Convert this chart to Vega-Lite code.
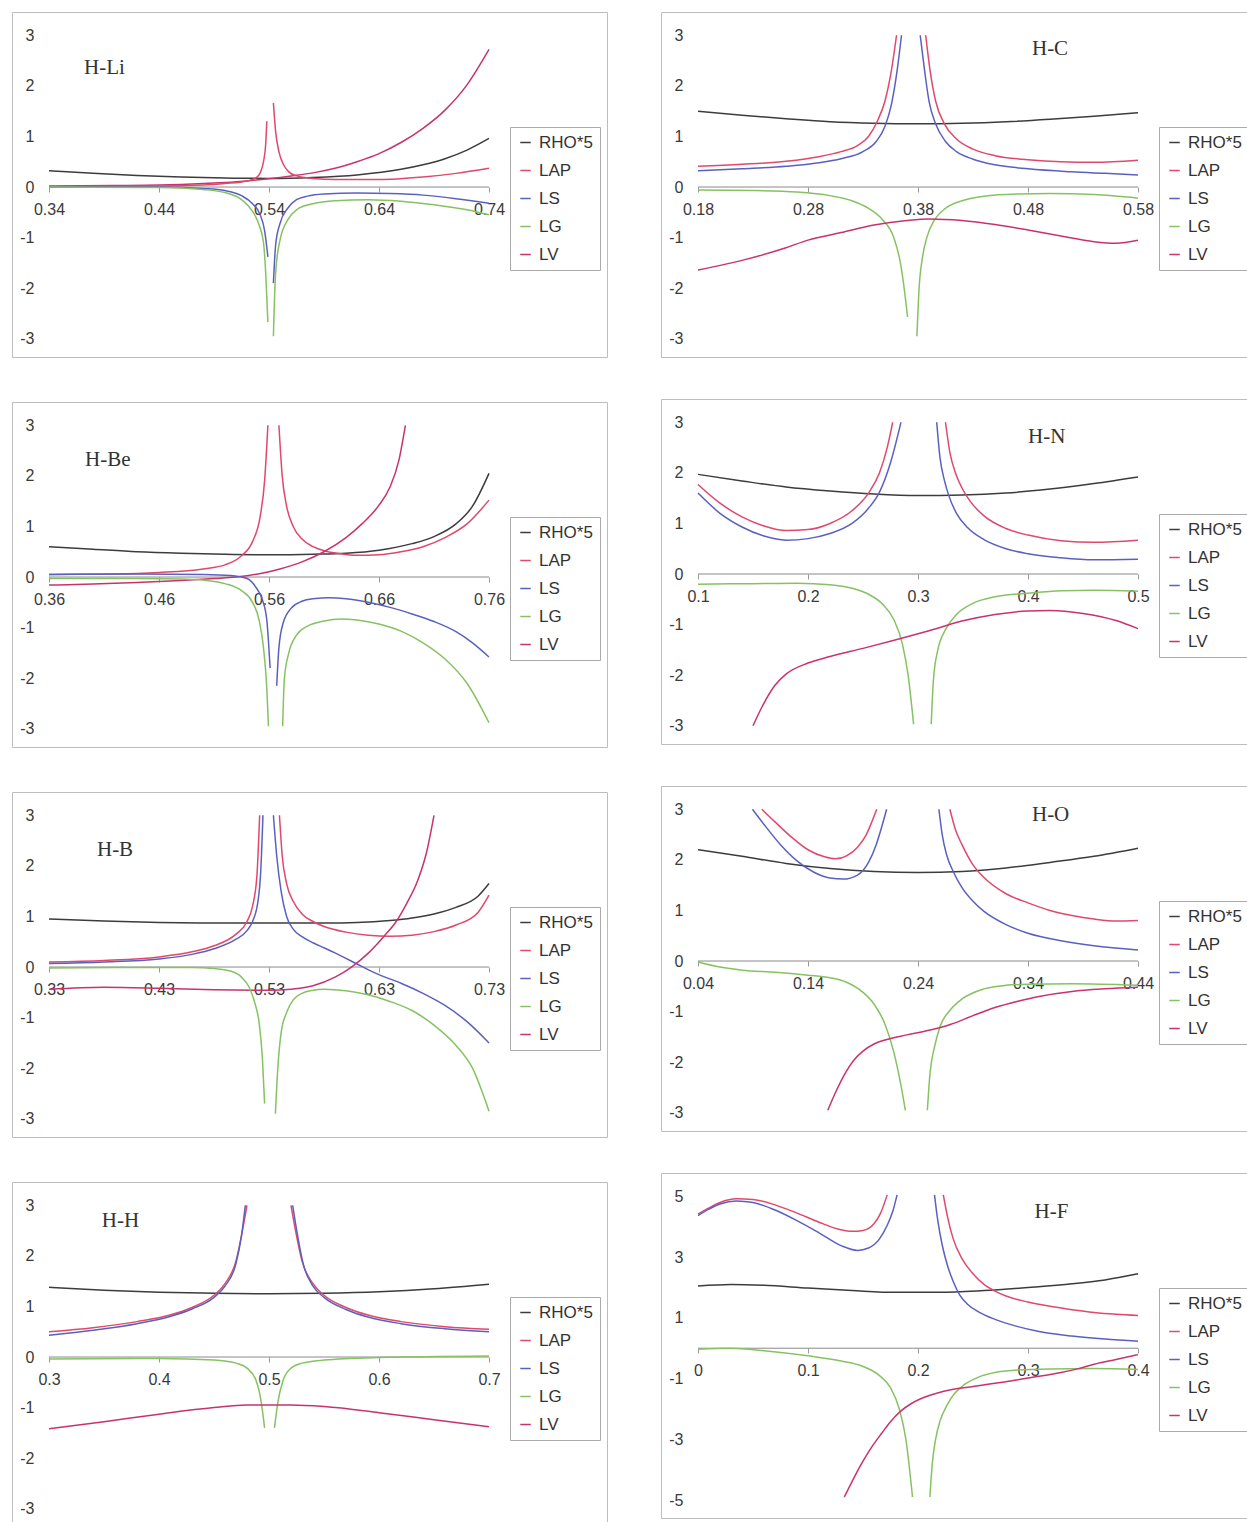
{
"$schema": "https://vega.github.io/schema/vega-lite/v6.json",
"background": "white",
"padding": {"left": 11, "top": 11, "right": 0, "bottom": 0},
"datasets": {
"hli": [
{"s":"RHO*5","b":0,"x":0.34,"y":0.32},{"s":"RHO*5","b":0,"x":0.38,"y":0.27},{"s":"RHO*5","b":0,"x":0.42,"y":0.23},{"s":"RHO*5","b":0,"x":0.46,"y":0.2},{"s":"RHO*5","b":0,"x":0.5,"y":0.18},{"s":"RHO*5","b":0,"x":0.54,"y":0.17},{"s":"RHO*5","b":0,"x":0.58,"y":0.19},{"s":"RHO*5","b":0,"x":0.62,"y":0.24},{"s":"RHO*5","b":0,"x":0.66,"y":0.35},{"s":"RHO*5","b":0,"x":0.68,"y":0.44},{"s":"RHO*5","b":0,"x":0.7,"y":0.56},{"s":"RHO*5","b":0,"x":0.72,"y":0.73},{"s":"RHO*5","b":0,"x":0.74,"y":0.96},
{"s":"LV","b":0,"x":0.34,"y":0.02},{"s":"LV","b":0,"x":0.4,"y":0.03},{"s":"LV","b":0,"x":0.44,"y":0.04},{"s":"LV","b":0,"x":0.48,"y":0.07},{"s":"LV","b":0,"x":0.52,"y":0.12},{"s":"LV","b":0,"x":0.56,"y":0.22},{"s":"LV","b":0,"x":0.58,"y":0.28},{"s":"LV","b":0,"x":0.6,"y":0.37},{"s":"LV","b":0,"x":0.62,"y":0.5},{"s":"LV","b":0,"x":0.64,"y":0.66},{"s":"LV","b":0,"x":0.66,"y":0.88},{"s":"LV","b":0,"x":0.68,"y":1.16},{"s":"LV","b":0,"x":0.7,"y":1.52},{"s":"LV","b":0,"x":0.72,"y":2.02},{"s":"LV","b":0,"x":0.74,"y":2.72},
{"s":"LAP","b":1,"x":0.34,"y":0.01},{"s":"LAP","b":1,"x":0.44,"y":0.02},{"s":"LAP","b":1,"x":0.48,"y":0.04},{"s":"LAP","b":1,"x":0.5,"y":0.07},{"s":"LAP","b":1,"x":0.52,"y":0.12},{"s":"LAP","b":1,"x":0.528,"y":0.18},{"s":"LAP","b":1,"x":0.532,"y":0.28},{"s":"LAP","b":1,"x":0.535,"y":0.5},{"s":"LAP","b":1,"x":0.537,"y":0.85},{"s":"LAP","b":1,"x":0.538,"y":1.3},
{"s":"LAP","b":2,"x":0.544,"y":1.66},{"s":"LAP","b":2,"x":0.546,"y":1.1},{"s":"LAP","b":2,"x":0.549,"y":0.7},{"s":"LAP","b":2,"x":0.553,"y":0.45},{"s":"LAP","b":2,"x":0.558,"y":0.3},{"s":"LAP","b":2,"x":0.565,"y":0.22},{"s":"LAP","b":2,"x":0.58,"y":0.17},{"s":"LAP","b":2,"x":0.6,"y":0.15},{"s":"LAP","b":2,"x":0.64,"y":0.15},{"s":"LAP","b":2,"x":0.68,"y":0.2},{"s":"LAP","b":2,"x":0.71,"y":0.27},{"s":"LAP","b":2,"x":0.74,"y":0.37},
{"s":"LS","b":1,"x":0.34,"y":0.0},{"s":"LS","b":1,"x":0.44,"y":0.0},{"s":"LS","b":1,"x":0.48,"y":-0.03},{"s":"LS","b":1,"x":0.5,"y":-0.07},{"s":"LS","b":1,"x":0.515,"y":-0.17},{"s":"LS","b":1,"x":0.525,"y":-0.33},{"s":"LS","b":1,"x":0.532,"y":-0.55},{"s":"LS","b":1,"x":0.536,"y":-0.86},{"s":"LS","b":1,"x":0.539,"y":-1.38},
{"s":"LS","b":2,"x":0.544,"y":-1.9},{"s":"LS","b":2,"x":0.546,"y":-1.15},{"s":"LS","b":2,"x":0.55,"y":-0.72},{"s":"LS","b":2,"x":0.557,"y":-0.42},{"s":"LS","b":2,"x":0.565,"y":-0.25},{"s":"LS","b":2,"x":0.575,"y":-0.18},{"s":"LS","b":2,"x":0.59,"y":-0.14},{"s":"LS","b":2,"x":0.62,"y":-0.12},{"s":"LS","b":2,"x":0.65,"y":-0.13},{"s":"LS","b":2,"x":0.68,"y":-0.16},{"s":"LS","b":2,"x":0.71,"y":-0.23},{"s":"LS","b":2,"x":0.74,"y":-0.32},
{"s":"LG","b":1,"x":0.34,"y":0.0},{"s":"LG","b":1,"x":0.44,"y":-0.01},{"s":"LG","b":1,"x":0.48,"y":-0.05},{"s":"LG","b":1,"x":0.5,"y":-0.11},{"s":"LG","b":1,"x":0.515,"y":-0.25},{"s":"LG","b":1,"x":0.525,"y":-0.48},{"s":"LG","b":1,"x":0.531,"y":-0.75},{"s":"LG","b":1,"x":0.535,"y":-1.1},{"s":"LG","b":1,"x":0.537,"y":-1.7},{"s":"LG","b":1,"x":0.539,"y":-2.67},
{"s":"LG","b":2,"x":0.544,"y":-2.95},{"s":"LG","b":2,"x":0.546,"y":-1.7},{"s":"LG","b":2,"x":0.55,"y":-1.05},{"s":"LG","b":2,"x":0.557,"y":-0.65},{"s":"LG","b":2,"x":0.565,"y":-0.45},{"s":"LG","b":2,"x":0.58,"y":-0.33},{"s":"LG","b":2,"x":0.6,"y":-0.27},{"s":"LG","b":2,"x":0.63,"y":-0.25},{"s":"LG","b":2,"x":0.66,"y":-0.28},{"s":"LG","b":2,"x":0.69,"y":-0.35},{"s":"LG","b":2,"x":0.72,"y":-0.45},{"s":"LG","b":2,"x":0.74,"y":-0.55}
],
"hbe": [
{"s":"RHO*5","b":0,"x":0.36,"y":0.6},{"s":"RHO*5","b":0,"x":0.4,"y":0.55},{"s":"RHO*5","b":0,"x":0.44,"y":0.5},{"s":"RHO*5","b":0,"x":0.48,"y":0.47},{"s":"RHO*5","b":0,"x":0.52,"y":0.45},{"s":"RHO*5","b":0,"x":0.56,"y":0.44},{"s":"RHO*5","b":0,"x":0.6,"y":0.45},{"s":"RHO*5","b":0,"x":0.63,"y":0.47},{"s":"RHO*5","b":0,"x":0.66,"y":0.53},{"s":"RHO*5","b":0,"x":0.69,"y":0.66},{"s":"RHO*5","b":0,"x":0.71,"y":0.8},{"s":"RHO*5","b":0,"x":0.73,"y":1.05},{"s":"RHO*5","b":0,"x":0.745,"y":1.4},{"s":"RHO*5","b":0,"x":0.76,"y":2.05},
{"s":"LAP","b":1,"x":0.36,"y":0.05},{"s":"LAP","b":1,"x":0.42,"y":0.06},{"s":"LAP","b":1,"x":0.46,"y":0.09},{"s":"LAP","b":1,"x":0.5,"y":0.16},{"s":"LAP","b":1,"x":0.52,"y":0.24},{"s":"LAP","b":1,"x":0.535,"y":0.42},{"s":"LAP","b":1,"x":0.545,"y":0.7},{"s":"LAP","b":1,"x":0.552,"y":1.2},{"s":"LAP","b":1,"x":0.556,"y":1.9},{"s":"LAP","b":1,"x":0.559,"y":3.0},
{"s":"LAP","b":2,"x":0.569,"y":3.0},{"s":"LAP","b":2,"x":0.572,"y":2.0},{"s":"LAP","b":2,"x":0.576,"y":1.4},{"s":"LAP","b":2,"x":0.582,"y":1.0},{"s":"LAP","b":2,"x":0.59,"y":0.75},{"s":"LAP","b":2,"x":0.6,"y":0.6},{"s":"LAP","b":2,"x":0.61,"y":0.52},{"s":"LAP","b":2,"x":0.625,"y":0.46},{"s":"LAP","b":2,"x":0.64,"y":0.43},{"s":"LAP","b":2,"x":0.66,"y":0.44},{"s":"LAP","b":2,"x":0.68,"y":0.5},{"s":"LAP","b":2,"x":0.7,"y":0.6},{"s":"LAP","b":2,"x":0.72,"y":0.78},{"s":"LAP","b":2,"x":0.74,"y":1.05},{"s":"LAP","b":2,"x":0.76,"y":1.52},
{"s":"LV","b":0,"x":0.36,"y":-0.16},{"s":"LV","b":0,"x":0.4,"y":-0.14},{"s":"LV","b":0,"x":0.44,"y":-0.11},{"s":"LV","b":0,"x":0.48,"y":-0.07},{"s":"LV","b":0,"x":0.51,"y":-0.03},{"s":"LV","b":0,"x":0.53,"y":0.0},{"s":"LV","b":0,"x":0.55,"y":0.06},{"s":"LV","b":0,"x":0.57,"y":0.16},{"s":"LV","b":0,"x":0.59,"y":0.3},{"s":"LV","b":0,"x":0.61,"y":0.5},{"s":"LV","b":0,"x":0.63,"y":0.78},{"s":"LV","b":0,"x":0.645,"y":1.06},{"s":"LV","b":0,"x":0.66,"y":1.42},{"s":"LV","b":0,"x":0.67,"y":1.78},{"s":"LV","b":0,"x":0.678,"y":2.3},{"s":"LV","b":0,"x":0.684,"y":3.0},
{"s":"LS","b":1,"x":0.36,"y":0.05},{"s":"LS","b":1,"x":0.44,"y":0.06},{"s":"LS","b":1,"x":0.5,"y":0.05},{"s":"LS","b":1,"x":0.525,"y":0.03},{"s":"LS","b":1,"x":0.54,"y":-0.03},{"s":"LS","b":1,"x":0.548,"y":-0.2},{"s":"LS","b":1,"x":0.554,"y":-0.45},{"s":"LS","b":1,"x":0.558,"y":-0.85},{"s":"LS","b":1,"x":0.561,"y":-1.8},
{"s":"LS","b":2,"x":0.567,"y":-2.15},{"s":"LS","b":2,"x":0.569,"y":-1.4},{"s":"LS","b":2,"x":0.573,"y":-0.9},{"s":"LS","b":2,"x":0.58,"y":-0.62},{"s":"LS","b":2,"x":0.59,"y":-0.48},{"s":"LS","b":2,"x":0.6,"y":-0.43},{"s":"LS","b":2,"x":0.615,"y":-0.41},{"s":"LS","b":2,"x":0.63,"y":-0.43},{"s":"LS","b":2,"x":0.65,"y":-0.5},{"s":"LS","b":2,"x":0.67,"y":-0.6},{"s":"LS","b":2,"x":0.69,"y":-0.73},{"s":"LS","b":2,"x":0.71,"y":-0.88},{"s":"LS","b":2,"x":0.73,"y":-1.08},{"s":"LS","b":2,"x":0.745,"y":-1.3},{"s":"LS","b":2,"x":0.76,"y":-1.58},
{"s":"LG","b":1,"x":0.36,"y":-0.03},{"s":"LG","b":1,"x":0.44,"y":-0.03},{"s":"LG","b":1,"x":0.48,"y":-0.04},{"s":"LG","b":1,"x":0.5,"y":-0.06},{"s":"LG","b":1,"x":0.52,"y":-0.13},{"s":"LG","b":1,"x":0.535,"y":-0.27},{"s":"LG","b":1,"x":0.545,"y":-0.5},{"s":"LG","b":1,"x":0.551,"y":-0.85},{"s":"LG","b":1,"x":0.555,"y":-1.4},{"s":"LG","b":1,"x":0.558,"y":-2.2},{"s":"LG","b":1,"x":0.5595,"y":-2.95},
{"s":"LG","b":2,"x":0.5724,"y":-2.95},{"s":"LG","b":2,"x":0.574,"y":-2.0},{"s":"LG","b":2,"x":0.578,"y":-1.5},{"s":"LG","b":2,"x":0.585,"y":-1.15},{"s":"LG","b":2,"x":0.595,"y":-0.97},{"s":"LG","b":2,"x":0.61,"y":-0.87},{"s":"LG","b":2,"x":0.625,"y":-0.83},{"s":"LG","b":2,"x":0.64,"y":-0.85},{"s":"LG","b":2,"x":0.66,"y":-0.93},{"s":"LG","b":2,"x":0.68,"y":-1.07},{"s":"LG","b":2,"x":0.7,"y":-1.3},{"s":"LG","b":2,"x":0.72,"y":-1.62},{"s":"LG","b":2,"x":0.74,"y":-2.1},{"s":"LG","b":2,"x":0.76,"y":-2.88}
],
"hb": [
{"s":"RHO*5","b":0,"x":0.33,"y":0.95},{"s":"RHO*5","b":0,"x":0.38,"y":0.91},{"s":"RHO*5","b":0,"x":0.43,"y":0.88},{"s":"RHO*5","b":0,"x":0.48,"y":0.87},{"s":"RHO*5","b":0,"x":0.53,"y":0.87},{"s":"RHO*5","b":0,"x":0.58,"y":0.87},{"s":"RHO*5","b":0,"x":0.61,"y":0.88},{"s":"RHO*5","b":0,"x":0.64,"y":0.92},{"s":"RHO*5","b":0,"x":0.66,"y":0.97},{"s":"RHO*5","b":0,"x":0.68,"y":1.05},{"s":"RHO*5","b":0,"x":0.7,"y":1.18},{"s":"RHO*5","b":0,"x":0.72,"y":1.4},{"s":"RHO*5","b":0,"x":0.73,"y":1.65},
{"s":"LAP","b":1,"x":0.33,"y":0.1},{"s":"LAP","b":1,"x":0.38,"y":0.13},{"s":"LAP","b":1,"x":0.43,"y":0.2},{"s":"LAP","b":1,"x":0.46,"y":0.3},{"s":"LAP","b":1,"x":0.48,"y":0.42},{"s":"LAP","b":1,"x":0.5,"y":0.65},{"s":"LAP","b":1,"x":0.51,"y":0.9},{"s":"LAP","b":1,"x":0.515,"y":1.2},{"s":"LAP","b":1,"x":0.519,"y":1.8},{"s":"LAP","b":1,"x":0.5215,"y":3.0},
{"s":"LAP","b":2,"x":0.5395,"y":3.0},{"s":"LAP","b":2,"x":0.542,"y":2.2},{"s":"LAP","b":2,"x":0.546,"y":1.65},{"s":"LAP","b":2,"x":0.552,"y":1.3},{"s":"LAP","b":2,"x":0.56,"y":1.05},{"s":"LAP","b":2,"x":0.57,"y":0.9},{"s":"LAP","b":2,"x":0.58,"y":0.8},{"s":"LAP","b":2,"x":0.6,"y":0.69},{"s":"LAP","b":2,"x":0.62,"y":0.63},{"s":"LAP","b":2,"x":0.64,"y":0.61},{"s":"LAP","b":2,"x":0.66,"y":0.63},{"s":"LAP","b":2,"x":0.68,"y":0.7},{"s":"LAP","b":2,"x":0.7,"y":0.83},{"s":"LAP","b":2,"x":0.72,"y":1.08},{"s":"LAP","b":2,"x":0.73,"y":1.42},
{"s":"LS","b":1,"x":0.33,"y":0.07},{"s":"LS","b":1,"x":0.38,"y":0.1},{"s":"LS","b":1,"x":0.43,"y":0.16},{"s":"LS","b":1,"x":0.46,"y":0.25},{"s":"LS","b":1,"x":0.48,"y":0.36},{"s":"LS","b":1,"x":0.5,"y":0.55},{"s":"LS","b":1,"x":0.51,"y":0.72},{"s":"LS","b":1,"x":0.515,"y":0.9},{"s":"LS","b":1,"x":0.52,"y":1.3},{"s":"LS","b":1,"x":0.5225,"y":1.9},{"s":"LS","b":1,"x":0.5245,"y":3.0},
{"s":"LS","b":2,"x":0.534,"y":3.0},{"s":"LS","b":2,"x":0.537,"y":2.2},{"s":"LS","b":2,"x":0.541,"y":1.5},{"s":"LS","b":2,"x":0.546,"y":1.0},{"s":"LS","b":2,"x":0.552,"y":0.75},{"s":"LS","b":2,"x":0.56,"y":0.6},{"s":"LS","b":2,"x":0.57,"y":0.48},{"s":"LS","b":2,"x":0.58,"y":0.38},{"s":"LS","b":2,"x":0.59,"y":0.28},{"s":"LS","b":2,"x":0.6,"y":0.17},{"s":"LS","b":2,"x":0.61,"y":0.06},{"s":"LS","b":2,"x":0.62,"y":-0.05},{"s":"LS","b":2,"x":0.63,"y":-0.15},{"s":"LS","b":2,"x":0.65,"y":-0.32},{"s":"LS","b":2,"x":0.67,"y":-0.52},{"s":"LS","b":2,"x":0.69,"y":-0.76},{"s":"LS","b":2,"x":0.71,"y":-1.08},{"s":"LS","b":2,"x":0.73,"y":-1.5},
{"s":"LV","b":0,"x":0.33,"y":-0.44},{"s":"LV","b":0,"x":0.38,"y":-0.4},{"s":"LV","b":0,"x":0.43,"y":-0.42},{"s":"LV","b":0,"x":0.48,"y":-0.45},{"s":"LV","b":0,"x":0.53,"y":-0.46},{"s":"LV","b":0,"x":0.55,"y":-0.44},{"s":"LV","b":0,"x":0.57,"y":-0.37},{"s":"LV","b":0,"x":0.59,"y":-0.2},{"s":"LV","b":0,"x":0.605,"y":0.0},{"s":"LV","b":0,"x":0.62,"y":0.27},{"s":"LV","b":0,"x":0.635,"y":0.62},{"s":"LV","b":0,"x":0.645,"y":0.88},{"s":"LV","b":0,"x":0.655,"y":1.25},{"s":"LV","b":0,"x":0.665,"y":1.7},{"s":"LV","b":0,"x":0.673,"y":2.25},{"s":"LV","b":0,"x":0.68,"y":3.0},
{"s":"LG","b":1,"x":0.33,"y":-0.02},{"s":"LG","b":1,"x":0.4,"y":-0.01},{"s":"LG","b":1,"x":0.46,"y":-0.01},{"s":"LG","b":1,"x":0.48,"y":-0.03},{"s":"LG","b":1,"x":0.495,"y":-0.08},{"s":"LG","b":1,"x":0.505,"y":-0.2},{"s":"LG","b":1,"x":0.512,"y":-0.4},{"s":"LG","b":1,"x":0.517,"y":-0.7},{"s":"LG","b":1,"x":0.521,"y":-1.1},{"s":"LG","b":1,"x":0.524,"y":-1.8},{"s":"LG","b":1,"x":0.526,"y":-2.7},
{"s":"LG","b":2,"x":0.5358,"y":-2.9},{"s":"LG","b":2,"x":0.538,"y":-2.0},{"s":"LG","b":2,"x":0.541,"y":-1.3},{"s":"LG","b":2,"x":0.546,"y":-0.9},{"s":"LG","b":2,"x":0.552,"y":-0.65},{"s":"LG","b":2,"x":0.56,"y":-0.52},{"s":"LG","b":2,"x":0.57,"y":-0.46},{"s":"LG","b":2,"x":0.58,"y":-0.44},{"s":"LG","b":2,"x":0.6,"y":-0.47},{"s":"LG","b":2,"x":0.62,"y":-0.55},{"s":"LG","b":2,"x":0.64,"y":-0.68},{"s":"LG","b":2,"x":0.66,"y":-0.86},{"s":"LG","b":2,"x":0.68,"y":-1.15},{"s":"LG","b":2,"x":0.7,"y":-1.55},{"s":"LG","b":2,"x":0.715,"y":-2.0},{"s":"LG","b":2,"x":0.73,"y":-2.85}
],
"hh": [
{"s":"RHO*5","b":0,"x":0.3,"y":1.38},{"s":"RHO*5","b":0,"x":0.35,"y":1.32},{"s":"RHO*5","b":0,"x":0.4,"y":1.28},{"s":"RHO*5","b":0,"x":0.45,"y":1.26},{"s":"RHO*5","b":0,"x":0.5,"y":1.25},{"s":"RHO*5","b":0,"x":0.55,"y":1.26},{"s":"RHO*5","b":0,"x":0.6,"y":1.29},{"s":"RHO*5","b":0,"x":0.65,"y":1.35},{"s":"RHO*5","b":0,"x":0.7,"y":1.44},
{"s":"LAP","b":1,"x":0.3,"y":0.5},{"s":"LAP","b":1,"x":0.34,"y":0.58},{"s":"LAP","b":1,"x":0.38,"y":0.7},{"s":"LAP","b":1,"x":0.41,"y":0.83},{"s":"LAP","b":1,"x":0.43,"y":0.98},{"s":"LAP","b":1,"x":0.45,"y":1.22},{"s":"LAP","b":1,"x":0.46,"y":1.45},{"s":"LAP","b":1,"x":0.47,"y":1.9},{"s":"LAP","b":1,"x":0.475,"y":2.4},{"s":"LAP","b":1,"x":0.48,"y":3.0},
{"s":"LAP","b":2,"x":0.52,"y":3.0},{"s":"LAP","b":2,"x":0.525,"y":2.4},{"s":"LAP","b":2,"x":0.53,"y":1.9},{"s":"LAP","b":2,"x":0.54,"y":1.45},{"s":"LAP","b":2,"x":0.55,"y":1.22},{"s":"LAP","b":2,"x":0.57,"y":0.98},{"s":"LAP","b":2,"x":0.59,"y":0.83},{"s":"LAP","b":2,"x":0.62,"y":0.7},{"s":"LAP","b":2,"x":0.66,"y":0.6},{"s":"LAP","b":2,"x":0.7,"y":0.55},
{"s":"LS","b":1,"x":0.3,"y":0.43},{"s":"LS","b":1,"x":0.34,"y":0.53},{"s":"LS","b":1,"x":0.38,"y":0.66},{"s":"LS","b":1,"x":0.41,"y":0.8},{"s":"LS","b":1,"x":0.43,"y":0.95},{"s":"LS","b":1,"x":0.45,"y":1.18},{"s":"LS","b":1,"x":0.46,"y":1.4},{"s":"LS","b":1,"x":0.47,"y":1.85},{"s":"LS","b":1,"x":0.475,"y":2.4},{"s":"LS","b":1,"x":0.4785,"y":3.0},
{"s":"LS","b":2,"x":0.5215,"y":3.0},{"s":"LS","b":2,"x":0.526,"y":2.4},{"s":"LS","b":2,"x":0.531,"y":1.85},{"s":"LS","b":2,"x":0.54,"y":1.4},{"s":"LS","b":2,"x":0.55,"y":1.18},{"s":"LS","b":2,"x":0.57,"y":0.94},{"s":"LS","b":2,"x":0.59,"y":0.79},{"s":"LS","b":2,"x":0.62,"y":0.66},{"s":"LS","b":2,"x":0.66,"y":0.56},{"s":"LS","b":2,"x":0.7,"y":0.5},
{"s":"LG","b":1,"x":0.3,"y":-0.04},{"s":"LG","b":1,"x":0.4,"y":-0.03},{"s":"LG","b":1,"x":0.45,"y":-0.06},{"s":"LG","b":1,"x":0.47,"y":-0.12},{"s":"LG","b":1,"x":0.48,"y":-0.22},{"s":"LG","b":1,"x":0.488,"y":-0.45},{"s":"LG","b":1,"x":0.493,"y":-0.9},{"s":"LG","b":1,"x":0.496,"y":-1.4},
{"s":"LG","b":2,"x":0.505,"y":-1.4},{"s":"LG","b":2,"x":0.508,"y":-0.9},{"s":"LG","b":2,"x":0.513,"y":-0.45},{"s":"LG","b":2,"x":0.52,"y":-0.22},{"s":"LG","b":2,"x":0.53,"y":-0.12},{"s":"LG","b":2,"x":0.55,"y":-0.06},{"s":"LG","b":2,"x":0.6,"y":-0.01},{"s":"LG","b":2,"x":0.7,"y":0.02},
{"s":"LV","b":0,"x":0.3,"y":-1.42},{"s":"LV","b":0,"x":0.35,"y":-1.28},{"s":"LV","b":0,"x":0.4,"y":-1.13},{"s":"LV","b":0,"x":0.45,"y":-1.0},{"s":"LV","b":0,"x":0.48,"y":-0.95},{"s":"LV","b":0,"x":0.5,"y":-0.95},{"s":"LV","b":0,"x":0.52,"y":-0.95},{"s":"LV","b":0,"x":0.55,"y":-0.98},{"s":"LV","b":0,"x":0.6,"y":-1.1},{"s":"LV","b":0,"x":0.65,"y":-1.24},{"s":"LV","b":0,"x":0.7,"y":-1.38}
],
"hc": [
{"s":"RHO*5","b":0,"x":0.18,"y":1.5},{"s":"RHO*5","b":0,"x":0.22,"y":1.42},{"s":"RHO*5","b":0,"x":0.26,"y":1.35},{"s":"RHO*5","b":0,"x":0.3,"y":1.29},{"s":"RHO*5","b":0,"x":0.34,"y":1.26},{"s":"RHO*5","b":0,"x":0.38,"y":1.25},{"s":"RHO*5","b":0,"x":0.42,"y":1.26},{"s":"RHO*5","b":0,"x":0.46,"y":1.29},{"s":"RHO*5","b":0,"x":0.5,"y":1.34},{"s":"RHO*5","b":0,"x":0.54,"y":1.4},{"s":"RHO*5","b":0,"x":0.58,"y":1.47},
{"s":"LAP","b":1,"x":0.18,"y":0.41},{"s":"LAP","b":1,"x":0.22,"y":0.45},{"s":"LAP","b":1,"x":0.26,"y":0.51},{"s":"LAP","b":1,"x":0.29,"y":0.6},{"s":"LAP","b":1,"x":0.31,"y":0.7},{"s":"LAP","b":1,"x":0.325,"y":0.82},{"s":"LAP","b":1,"x":0.335,"y":1.0},{"s":"LAP","b":1,"x":0.343,"y":1.3},{"s":"LAP","b":1,"x":0.35,"y":1.7},{"s":"LAP","b":1,"x":0.355,"y":2.2},{"s":"LAP","b":1,"x":0.3605,"y":3.0},
{"s":"LAP","b":2,"x":0.387,"y":3.0},{"s":"LAP","b":2,"x":0.391,"y":2.3},{"s":"LAP","b":2,"x":0.396,"y":1.7},{"s":"LAP","b":2,"x":0.404,"y":1.25},{"s":"LAP","b":2,"x":0.415,"y":0.95},{"s":"LAP","b":2,"x":0.43,"y":0.75},{"s":"LAP","b":2,"x":0.45,"y":0.62},{"s":"LAP","b":2,"x":0.48,"y":0.54},{"s":"LAP","b":2,"x":0.51,"y":0.5},{"s":"LAP","b":2,"x":0.54,"y":0.49},{"s":"LAP","b":2,"x":0.58,"y":0.53},
{"s":"LS","b":1,"x":0.18,"y":0.32},{"s":"LS","b":1,"x":0.22,"y":0.36},{"s":"LS","b":1,"x":0.26,"y":0.41},{"s":"LS","b":1,"x":0.29,"y":0.48},{"s":"LS","b":1,"x":0.31,"y":0.56},{"s":"LS","b":1,"x":0.33,"y":0.7},{"s":"LS","b":1,"x":0.342,"y":0.9},{"s":"LS","b":1,"x":0.35,"y":1.2},{"s":"LS","b":1,"x":0.356,"y":1.65},{"s":"LS","b":1,"x":0.361,"y":2.3},{"s":"LS","b":1,"x":0.365,"y":3.0},
{"s":"LS","b":2,"x":0.382,"y":3.0},{"s":"LS","b":2,"x":0.386,"y":2.3},{"s":"LS","b":2,"x":0.39,"y":1.7},{"s":"LS","b":2,"x":0.396,"y":1.25},{"s":"LS","b":2,"x":0.405,"y":0.9},{"s":"LS","b":2,"x":0.415,"y":0.7},{"s":"LS","b":2,"x":0.43,"y":0.55},{"s":"LS","b":2,"x":0.45,"y":0.44},{"s":"LS","b":2,"x":0.48,"y":0.36},{"s":"LS","b":2,"x":0.52,"y":0.3},{"s":"LS","b":2,"x":0.55,"y":0.27},{"s":"LS","b":2,"x":0.58,"y":0.24},
{"s":"LG","b":1,"x":0.18,"y":-0.06},{"s":"LG","b":1,"x":0.23,"y":-0.07},{"s":"LG","b":1,"x":0.27,"y":-0.1},{"s":"LG","b":1,"x":0.3,"y":-0.17},{"s":"LG","b":1,"x":0.32,"y":-0.27},{"s":"LG","b":1,"x":0.335,"y":-0.42},{"s":"LG","b":1,"x":0.348,"y":-0.65},{"s":"LG","b":1,"x":0.358,"y":-1.0},{"s":"LG","b":1,"x":0.364,"y":-1.5},{"s":"LG","b":1,"x":0.368,"y":-2.1},{"s":"LG","b":1,"x":0.3705,"y":-2.57},
{"s":"LG","b":2,"x":0.379,"y":-2.95},{"s":"LG","b":2,"x":0.381,"y":-2.0},{"s":"LG","b":2,"x":0.384,"y":-1.4},{"s":"LG","b":2,"x":0.388,"y":-1.0},{"s":"LG","b":2,"x":0.395,"y":-0.65},{"s":"LG","b":2,"x":0.405,"y":-0.42},{"s":"LG","b":2,"x":0.42,"y":-0.27},{"s":"LG","b":2,"x":0.44,"y":-0.18},{"s":"LG","b":2,"x":0.47,"y":-0.14},{"s":"LG","b":2,"x":0.5,"y":-0.13},{"s":"LG","b":2,"x":0.54,"y":-0.15},{"s":"LG","b":2,"x":0.58,"y":-0.22},
{"s":"LV","b":0,"x":0.18,"y":-1.64},{"s":"LV","b":0,"x":0.22,"y":-1.45},{"s":"LV","b":0,"x":0.26,"y":-1.2},{"s":"LV","b":0,"x":0.28,"y":-1.05},{"s":"LV","b":0,"x":0.31,"y":-0.9},{"s":"LV","b":0,"x":0.34,"y":-0.75},{"s":"LV","b":0,"x":0.37,"y":-0.66},{"s":"LV","b":0,"x":0.39,"y":-0.63},{"s":"LV","b":0,"x":0.42,"y":-0.66},{"s":"LV","b":0,"x":0.45,"y":-0.74},{"s":"LV","b":0,"x":0.48,"y":-0.85},{"s":"LV","b":0,"x":0.51,"y":-0.97},{"s":"LV","b":0,"x":0.54,"y":-1.08},{"s":"LV","b":0,"x":0.56,"y":-1.11},{"s":"LV","b":0,"x":0.58,"y":-1.05}
],
"hn": [
{"s":"RHO*5","b":0,"x":0.1,"y":1.97},{"s":"RHO*5","b":0,"x":0.14,"y":1.84},{"s":"RHO*5","b":0,"x":0.18,"y":1.72},{"s":"RHO*5","b":0,"x":0.22,"y":1.64},{"s":"RHO*5","b":0,"x":0.26,"y":1.58},{"s":"RHO*5","b":0,"x":0.3,"y":1.55},{"s":"RHO*5","b":0,"x":0.34,"y":1.56},{"s":"RHO*5","b":0,"x":0.38,"y":1.6},{"s":"RHO*5","b":0,"x":0.42,"y":1.68},{"s":"RHO*5","b":0,"x":0.46,"y":1.79},{"s":"RHO*5","b":0,"x":0.5,"y":1.92},
{"s":"LAP","b":1,"x":0.1,"y":1.77},{"s":"LAP","b":1,"x":0.12,"y":1.4},{"s":"LAP","b":1,"x":0.14,"y":1.13},{"s":"LAP","b":1,"x":0.16,"y":0.95},{"s":"LAP","b":1,"x":0.18,"y":0.86},{"s":"LAP","b":1,"x":0.2,"y":0.88},{"s":"LAP","b":1,"x":0.22,"y":1.0},{"s":"LAP","b":1,"x":0.24,"y":1.25},{"s":"LAP","b":1,"x":0.255,"y":1.6},{"s":"LAP","b":1,"x":0.265,"y":2.0},{"s":"LAP","b":1,"x":0.272,"y":2.5},{"s":"LAP","b":1,"x":0.277,"y":3.0},
{"s":"LAP","b":2,"x":0.325,"y":3.0},{"s":"LAP","b":2,"x":0.329,"y":2.4},{"s":"LAP","b":2,"x":0.334,"y":2.0},{"s":"LAP","b":2,"x":0.34,"y":1.7},{"s":"LAP","b":2,"x":0.347,"y":1.45},{"s":"LAP","b":2,"x":0.36,"y":1.15},{"s":"LAP","b":2,"x":0.38,"y":0.9},{"s":"LAP","b":2,"x":0.4,"y":0.77},{"s":"LAP","b":2,"x":0.43,"y":0.66},{"s":"LAP","b":2,"x":0.46,"y":0.63},{"s":"LAP","b":2,"x":0.5,"y":0.67},
{"s":"LS","b":1,"x":0.1,"y":1.6},{"s":"LS","b":1,"x":0.12,"y":1.2},{"s":"LS","b":1,"x":0.14,"y":0.93},{"s":"LS","b":1,"x":0.16,"y":0.75},{"s":"LS","b":1,"x":0.18,"y":0.67},{"s":"LS","b":1,"x":0.2,"y":0.7},{"s":"LS","b":1,"x":0.22,"y":0.8},{"s":"LS","b":1,"x":0.24,"y":1.0},{"s":"LS","b":1,"x":0.255,"y":1.3},{"s":"LS","b":1,"x":0.265,"y":1.62},{"s":"LS","b":1,"x":0.275,"y":2.2},{"s":"LS","b":1,"x":0.2845,"y":3.0},
{"s":"LS","b":2,"x":0.317,"y":3.0},{"s":"LS","b":2,"x":0.32,"y":2.3},{"s":"LS","b":2,"x":0.324,"y":1.85},{"s":"LS","b":2,"x":0.328,"y":1.55},{"s":"LS","b":2,"x":0.335,"y":1.2},{"s":"LS","b":2,"x":0.345,"y":0.92},{"s":"LS","b":2,"x":0.36,"y":0.68},{"s":"LS","b":2,"x":0.38,"y":0.5},{"s":"LS","b":2,"x":0.4,"y":0.4},{"s":"LS","b":2,"x":0.43,"y":0.32},{"s":"LS","b":2,"x":0.46,"y":0.28},{"s":"LS","b":2,"x":0.5,"y":0.29},
{"s":"LG","b":1,"x":0.1,"y":-0.2},{"s":"LG","b":1,"x":0.15,"y":-0.19},{"s":"LG","b":1,"x":0.19,"y":-0.18},{"s":"LG","b":1,"x":0.22,"y":-0.21},{"s":"LG","b":1,"x":0.24,"y":-0.28},{"s":"LG","b":1,"x":0.255,"y":-0.4},{"s":"LG","b":1,"x":0.268,"y":-0.6},{"s":"LG","b":1,"x":0.278,"y":-0.9},{"s":"LG","b":1,"x":0.286,"y":-1.4},{"s":"LG","b":1,"x":0.291,"y":-2.0},{"s":"LG","b":1,"x":0.296,"y":-2.97},
{"s":"LG","b":2,"x":0.312,"y":-2.97},{"s":"LG","b":2,"x":0.314,"y":-2.1},{"s":"LG","b":2,"x":0.318,"y":-1.5},{"s":"LG","b":2,"x":0.325,"y":-1.1},{"s":"LG","b":2,"x":0.335,"y":-0.8},{"s":"LG","b":2,"x":0.35,"y":-0.58},{"s":"LG","b":2,"x":0.37,"y":-0.45},{"s":"LG","b":2,"x":0.4,"y":-0.38},{"s":"LG","b":2,"x":0.43,"y":-0.33},{"s":"LG","b":2,"x":0.46,"y":-0.32},{"s":"LG","b":2,"x":0.5,"y":-0.34},
{"s":"LV","b":0,"x":0.15,"y":-3.0},{"s":"LV","b":0,"x":0.16,"y":-2.55},{"s":"LV","b":0,"x":0.17,"y":-2.2},{"s":"LV","b":0,"x":0.18,"y":-1.98},{"s":"LV","b":0,"x":0.2,"y":-1.76},{"s":"LV","b":0,"x":0.22,"y":-1.63},{"s":"LV","b":0,"x":0.25,"y":-1.47},{"s":"LV","b":0,"x":0.28,"y":-1.3},{"s":"LV","b":0,"x":0.31,"y":-1.12},{"s":"LV","b":0,"x":0.34,"y":-0.93},{"s":"LV","b":0,"x":0.37,"y":-0.8},{"s":"LV","b":0,"x":0.4,"y":-0.73},{"s":"LV","b":0,"x":0.42,"y":-0.72},{"s":"LV","b":0,"x":0.45,"y":-0.78},{"s":"LV","b":0,"x":0.48,"y":-0.92},{"s":"LV","b":0,"x":0.5,"y":-1.08}
],
"ho": [
{"s":"RHO*5","b":0,"x":0.04,"y":2.2},{"s":"RHO*5","b":0,"x":0.08,"y":2.07},{"s":"RHO*5","b":0,"x":0.12,"y":1.93},{"s":"RHO*5","b":0,"x":0.16,"y":1.83},{"s":"RHO*5","b":0,"x":0.2,"y":1.77},{"s":"RHO*5","b":0,"x":0.24,"y":1.75},{"s":"RHO*5","b":0,"x":0.28,"y":1.77},{"s":"RHO*5","b":0,"x":0.32,"y":1.84},{"s":"RHO*5","b":0,"x":0.36,"y":1.95},{"s":"RHO*5","b":0,"x":0.4,"y":2.07},{"s":"RHO*5","b":0,"x":0.44,"y":2.23},
{"s":"LS","b":1,"x":0.0895,"y":3.0},{"s":"LS","b":1,"x":0.1,"y":2.7},{"s":"LS","b":1,"x":0.115,"y":2.3},{"s":"LS","b":1,"x":0.13,"y":1.98},{"s":"LS","b":1,"x":0.145,"y":1.76},{"s":"LS","b":1,"x":0.16,"y":1.64},{"s":"LS","b":1,"x":0.172,"y":1.62},{"s":"LS","b":1,"x":0.185,"y":1.7},{"s":"LS","b":1,"x":0.195,"y":1.95},{"s":"LS","b":1,"x":0.202,"y":2.3},{"s":"LS","b":1,"x":0.207,"y":2.65},{"s":"LS","b":1,"x":0.2115,"y":3.0},
{"s":"LAP","b":1,"x":0.098,"y":3.0},{"s":"LAP","b":1,"x":0.11,"y":2.75},{"s":"LAP","b":1,"x":0.125,"y":2.45},{"s":"LAP","b":1,"x":0.14,"y":2.2},{"s":"LAP","b":1,"x":0.155,"y":2.06},{"s":"LAP","b":1,"x":0.165,"y":2.02},{"s":"LAP","b":1,"x":0.175,"y":2.08},{"s":"LAP","b":1,"x":0.185,"y":2.25},{"s":"LAP","b":1,"x":0.193,"y":2.5},{"s":"LAP","b":1,"x":0.198,"y":2.75},{"s":"LAP","b":1,"x":0.2025,"y":3.0},
{"s":"LS","b":2,"x":0.259,"y":3.0},{"s":"LS","b":2,"x":0.262,"y":2.5},{"s":"LS","b":2,"x":0.266,"y":2.1},{"s":"LS","b":2,"x":0.272,"y":1.77},{"s":"LS","b":2,"x":0.28,"y":1.45},{"s":"LS","b":2,"x":0.29,"y":1.18},{"s":"LS","b":2,"x":0.3,"y":0.98},{"s":"LS","b":2,"x":0.32,"y":0.72},{"s":"LS","b":2,"x":0.34,"y":0.55},{"s":"LS","b":2,"x":0.37,"y":0.4},{"s":"LS","b":2,"x":0.4,"y":0.3},{"s":"LS","b":2,"x":0.44,"y":0.22},
{"s":"LAP","b":2,"x":0.269,"y":3.0},{"s":"LAP","b":2,"x":0.274,"y":2.6},{"s":"LAP","b":2,"x":0.28,"y":2.3},{"s":"LAP","b":2,"x":0.29,"y":1.9},{"s":"LAP","b":2,"x":0.3,"y":1.65},{"s":"LAP","b":2,"x":0.32,"y":1.33},{"s":"LAP","b":2,"x":0.34,"y":1.15},{"s":"LAP","b":2,"x":0.36,"y":1.0},{"s":"LAP","b":2,"x":0.38,"y":0.9},{"s":"LAP","b":2,"x":0.4,"y":0.83},{"s":"LAP","b":2,"x":0.42,"y":0.79},{"s":"LAP","b":2,"x":0.44,"y":0.8},
{"s":"LG","b":1,"x":0.04,"y":-0.02},{"s":"LG","b":1,"x":0.06,"y":-0.12},{"s":"LG","b":1,"x":0.08,"y":-0.18},{"s":"LG","b":1,"x":0.11,"y":-0.22},{"s":"LG","b":1,"x":0.14,"y":-0.28},{"s":"LG","b":1,"x":0.16,"y":-0.33},{"s":"LG","b":1,"x":0.175,"y":-0.42},{"s":"LG","b":1,"x":0.19,"y":-0.62},{"s":"LG","b":1,"x":0.2,"y":-0.85},{"s":"LG","b":1,"x":0.21,"y":-1.25},{"s":"LG","b":1,"x":0.218,"y":-1.8},{"s":"LG","b":1,"x":0.224,"y":-2.4},{"s":"LG","b":1,"x":0.2285,"y":-2.95},
{"s":"LG","b":2,"x":0.2485,"y":-2.95},{"s":"LG","b":2,"x":0.251,"y":-2.2},{"s":"LG","b":2,"x":0.255,"y":-1.7},{"s":"LG","b":2,"x":0.26,"y":-1.3},{"s":"LG","b":2,"x":0.27,"y":-0.95},{"s":"LG","b":2,"x":0.28,"y":-0.75},{"s":"LG","b":2,"x":0.3,"y":-0.55},{"s":"LG","b":2,"x":0.32,"y":-0.48},{"s":"LG","b":2,"x":0.34,"y":-0.46},{"s":"LG","b":2,"x":0.38,"y":-0.45},{"s":"LG","b":2,"x":0.44,"y":-0.48},
{"s":"LV","b":0,"x":0.158,"y":-2.95},{"s":"LV","b":0,"x":0.165,"y":-2.6},{"s":"LV","b":0,"x":0.173,"y":-2.25},{"s":"LV","b":0,"x":0.182,"y":-1.95},{"s":"LV","b":0,"x":0.19,"y":-1.78},{"s":"LV","b":0,"x":0.2,"y":-1.64},{"s":"LV","b":0,"x":0.21,"y":-1.56},{"s":"LV","b":0,"x":0.23,"y":-1.46},{"s":"LV","b":0,"x":0.25,"y":-1.37},{"s":"LV","b":0,"x":0.27,"y":-1.25},{"s":"LV","b":0,"x":0.29,"y":-1.08},{"s":"LV","b":0,"x":0.31,"y":-0.92},{"s":"LV","b":0,"x":0.33,"y":-0.8},{"s":"LV","b":0,"x":0.35,"y":-0.7},{"s":"LV","b":0,"x":0.38,"y":-0.6},{"s":"LV","b":0,"x":0.41,"y":-0.55},{"s":"LV","b":0,"x":0.44,"y":-0.52}
],
"hf": [
{"s":"RHO*5","b":0,"x":0.0,"y":2.05},{"s":"RHO*5","b":0,"x":0.03,"y":2.1},{"s":"RHO*5","b":0,"x":0.06,"y":2.07},{"s":"RHO*5","b":0,"x":0.1,"y":1.98},{"s":"RHO*5","b":0,"x":0.14,"y":1.9},{"s":"RHO*5","b":0,"x":0.18,"y":1.84},{"s":"RHO*5","b":0,"x":0.22,"y":1.84},{"s":"RHO*5","b":0,"x":0.26,"y":1.9},{"s":"RHO*5","b":0,"x":0.3,"y":2.0},{"s":"RHO*5","b":0,"x":0.34,"y":2.12},{"s":"RHO*5","b":0,"x":0.37,"y":2.25},{"s":"RHO*5","b":0,"x":0.4,"y":2.45},
{"s":"LAP","b":1,"x":0.0,"y":4.42},{"s":"LAP","b":1,"x":0.01,"y":4.62},{"s":"LAP","b":1,"x":0.02,"y":4.8},{"s":"LAP","b":1,"x":0.035,"y":4.92},{"s":"LAP","b":1,"x":0.05,"y":4.9},{"s":"LAP","b":1,"x":0.07,"y":4.72},{"s":"LAP","b":1,"x":0.09,"y":4.45},{"s":"LAP","b":1,"x":0.11,"y":4.15},{"s":"LAP","b":1,"x":0.13,"y":3.9},{"s":"LAP","b":1,"x":0.14,"y":3.85},{"s":"LAP","b":1,"x":0.15,"y":3.88},{"s":"LAP","b":1,"x":0.16,"y":4.1},{"s":"LAP","b":1,"x":0.166,"y":4.45},{"s":"LAP","b":1,"x":0.172,"y":5.05},
{"s":"LS","b":1,"x":0.0,"y":4.37},{"s":"LS","b":1,"x":0.01,"y":4.58},{"s":"LS","b":1,"x":0.02,"y":4.75},{"s":"LS","b":1,"x":0.035,"y":4.85},{"s":"LS","b":1,"x":0.05,"y":4.8},{"s":"LS","b":1,"x":0.07,"y":4.55},{"s":"LS","b":1,"x":0.09,"y":4.2},{"s":"LS","b":1,"x":0.11,"y":3.8},{"s":"LS","b":1,"x":0.13,"y":3.38},{"s":"LS","b":1,"x":0.145,"y":3.22},{"s":"LS","b":1,"x":0.155,"y":3.3},{"s":"LS","b":1,"x":0.165,"y":3.6},{"s":"LS","b":1,"x":0.172,"y":4.05},{"s":"LS","b":1,"x":0.177,"y":4.5},{"s":"LS","b":1,"x":0.181,"y":5.05},
{"s":"LS","b":2,"x":0.215,"y":5.05},{"s":"LS","b":2,"x":0.218,"y":4.2},{"s":"LS","b":2,"x":0.222,"y":3.4},{"s":"LS","b":2,"x":0.227,"y":2.7},{"s":"LS","b":2,"x":0.232,"y":2.2},{"s":"LS","b":2,"x":0.238,"y":1.75},{"s":"LS","b":2,"x":0.245,"y":1.45},{"s":"LS","b":2,"x":0.255,"y":1.2},{"s":"LS","b":2,"x":0.27,"y":0.95},{"s":"LS","b":2,"x":0.29,"y":0.72},{"s":"LS","b":2,"x":0.31,"y":0.55},{"s":"LS","b":2,"x":0.34,"y":0.4},{"s":"LS","b":2,"x":0.37,"y":0.3},{"s":"LS","b":2,"x":0.4,"y":0.23},
{"s":"LAP","b":2,"x":0.223,"y":5.05},{"s":"LAP","b":2,"x":0.227,"y":4.3},{"s":"LAP","b":2,"x":0.232,"y":3.6},{"s":"LAP","b":2,"x":0.24,"y":2.95},{"s":"LAP","b":2,"x":0.25,"y":2.45},{"s":"LAP","b":2,"x":0.26,"y":2.1},{"s":"LAP","b":2,"x":0.27,"y":1.88},{"s":"LAP","b":2,"x":0.28,"y":1.72},{"s":"LAP","b":2,"x":0.3,"y":1.52},{"s":"LAP","b":2,"x":0.32,"y":1.38},{"s":"LAP","b":2,"x":0.34,"y":1.27},{"s":"LAP","b":2,"x":0.36,"y":1.18},{"s":"LAP","b":2,"x":0.38,"y":1.12},{"s":"LAP","b":2,"x":0.4,"y":1.08},
{"s":"LG","b":1,"x":0.0,"y":-0.03},{"s":"LG","b":1,"x":0.03,"y":0.0},{"s":"LG","b":1,"x":0.06,"y":-0.08},{"s":"LG","b":1,"x":0.1,"y":-0.25},{"s":"LG","b":1,"x":0.13,"y":-0.42},{"s":"LG","b":1,"x":0.15,"y":-0.6},{"s":"LG","b":1,"x":0.165,"y":-0.9},{"s":"LG","b":1,"x":0.175,"y":-1.3},{"s":"LG","b":1,"x":0.183,"y":-2.0},{"s":"LG","b":1,"x":0.189,"y":-3.0},{"s":"LG","b":1,"x":0.195,"y":-4.9},
{"s":"LG","b":2,"x":0.2108,"y":-4.9},{"s":"LG","b":2,"x":0.213,"y":-3.8},{"s":"LG","b":2,"x":0.216,"y":-3.0},{"s":"LG","b":2,"x":0.22,"y":-2.4},{"s":"LG","b":2,"x":0.226,"y":-1.9},{"s":"LG","b":2,"x":0.233,"y":-1.5},{"s":"LG","b":2,"x":0.242,"y":-1.2},{"s":"LG","b":2,"x":0.255,"y":-0.95},{"s":"LG","b":2,"x":0.27,"y":-0.8},{"s":"LG","b":2,"x":0.29,"y":-0.72},{"s":"LG","b":2,"x":0.32,"y":-0.68},{"s":"LG","b":2,"x":0.36,"y":-0.67},{"s":"LG","b":2,"x":0.4,"y":-0.7},
{"s":"LV","b":0,"x":0.133,"y":-4.9},{"s":"LV","b":0,"x":0.142,"y":-4.25},{"s":"LV","b":0,"x":0.15,"y":-3.72},{"s":"LV","b":0,"x":0.158,"y":-3.25},{"s":"LV","b":0,"x":0.167,"y":-2.8},{"s":"LV","b":0,"x":0.175,"y":-2.42},{"s":"LV","b":0,"x":0.184,"y":-2.08},{"s":"LV","b":0,"x":0.194,"y":-1.82},{"s":"LV","b":0,"x":0.204,"y":-1.64},{"s":"LV","b":0,"x":0.217,"y":-1.48},{"s":"LV","b":0,"x":0.231,"y":-1.36},{"s":"LV","b":0,"x":0.25,"y":-1.26},{"s":"LV","b":0,"x":0.265,"y":-1.18},{"s":"LV","b":0,"x":0.28,"y":-1.1},{"s":"LV","b":0,"x":0.3,"y":-0.98},{"s":"LV","b":0,"x":0.33,"y":-0.8},{"s":"LV","b":0,"x":0.345,"y":-0.68},{"s":"LV","b":0,"x":0.36,"y":-0.53},{"s":"LV","b":0,"x":0.38,"y":-0.37},{"s":"LV","b":0,"x":0.4,"y":-0.21}
]
},
"hconcat": [
{"vconcat": [
{"width": 595, "height": 345, "layer": [
 {"data": {"values": [{}]}, "mark": {"type": "rule", "color": "#8a8a8a", "strokeWidth": 1}, "encoding": {"x": {"datum": 0.34, "type": "quantitative"}, "x2": {"datum": 0.74}, "y": {"datum": 0, "type": "quantitative"}}},
 {"data": {"name": "hli"}, "mark": {"type": "line", "strokeWidth": 1.5, "interpolate": "monotone"},
  "encoding": {
   "x": {"field": "x", "type": "quantitative", "scale": {"domain": [0.30636, 0.84727], "nice": false, "zero": false}, "axis": {"values": [0.34, 0.44, 0.54, 0.64, 0.74], "format": ".2f", "offset": -170, "title": null}},
   "y": {"field": "y", "type": "quantitative", "scale": {"domain": [-3.36, 3.46], "nice": false, "zero": false}, "axis": {"values": [-3, -2, -1, 0, 1, 2, 3], "labelExpr": "toString(datum.value)", "offset": -22, "title": null}},
   "color": {"field": "s", "type": "nominal", "scale": {"domain": ["RHO*5", "LAP", "LS", "LG", "LV"], "range": ["#3c3c3c", "#e0486c", "#5a60c0", "#86c262", "#c8336e"]}, "legend": {"orient": "none", "legendX": 498, "legendY": 115, "title": null}},
   "detail": {"field": "b", "type": "nominal"}}},
 {"data": {"values": [{}]}, "mark": {"type": "text", "font": "Liberation Serif", "fontSize": 21, "align": "left", "baseline": "middle", "color": "#333"}, "encoding": {"x": {"datum": 0.3718, "type": "quantitative"}, "y": {"datum": 2.35, "type": "quantitative"}, "text": {"value": "H-Li"}}}
]},
{"width": 595, "height": 345, "layer": [
 {"data": {"values": [{}]}, "mark": {"type": "rule", "color": "#8a8a8a", "strokeWidth": 1}, "encoding": {"x": {"datum": 0.36, "type": "quantitative"}, "x2": {"datum": 0.76}, "y": {"datum": 0, "type": "quantitative"}}},
 {"data": {"name": "hbe"}, "mark": {"type": "line", "strokeWidth": 1.5, "interpolate": "monotone"},
  "encoding": {
   "x": {"field": "x", "type": "quantitative", "scale": {"domain": [0.32636, 0.86727], "nice": false, "zero": false}, "axis": {"values": [0.36, 0.46, 0.56, 0.66, 0.76], "format": ".2f", "offset": -170, "title": null}},
   "y": {"field": "y", "type": "quantitative", "scale": {"domain": [-3.36, 3.46], "nice": false, "zero": false}, "axis": {"values": [-3, -2, -1, 0, 1, 2, 3], "labelExpr": "toString(datum.value)", "offset": -22, "title": null}},
   "color": {"field": "s", "type": "nominal", "scale": {"domain": ["RHO*5", "LAP", "LS", "LG", "LV"], "range": ["#3c3c3c", "#e0486c", "#5a60c0", "#86c262", "#c8336e"]}, "legend": {"orient": "none", "legendX": 498, "legendY": 115, "title": null}},
   "detail": {"field": "b", "type": "nominal"}}},
 {"data": {"values": [{}]}, "mark": {"type": "text", "font": "Liberation Serif", "fontSize": 21, "align": "left", "baseline": "middle", "color": "#333"}, "encoding": {"x": {"datum": 0.3927, "type": "quantitative"}, "y": {"datum": 2.31, "type": "quantitative"}, "text": {"value": "H-Be"}}}
]},
{"width": 595, "height": 345, "layer": [
 {"data": {"values": [{}]}, "mark": {"type": "rule", "color": "#8a8a8a", "strokeWidth": 1}, "encoding": {"x": {"datum": 0.33, "type": "quantitative"}, "x2": {"datum": 0.73}, "y": {"datum": 0, "type": "quantitative"}}},
 {"data": {"name": "hb"}, "mark": {"type": "line", "strokeWidth": 1.5, "interpolate": "monotone"},
  "encoding": {
   "x": {"field": "x", "type": "quantitative", "scale": {"domain": [0.29636, 0.83727], "nice": false, "zero": false}, "axis": {"values": [0.33, 0.43, 0.53, 0.63, 0.73], "format": ".2f", "offset": -170, "title": null}},
   "y": {"field": "y", "type": "quantitative", "scale": {"domain": [-3.36, 3.46], "nice": false, "zero": false}, "axis": {"values": [-3, -2, -1, 0, 1, 2, 3], "labelExpr": "toString(datum.value)", "offset": -22, "title": null}},
   "color": {"field": "s", "type": "nominal", "scale": {"domain": ["RHO*5", "LAP", "LS", "LG", "LV"], "range": ["#3c3c3c", "#e0486c", "#5a60c0", "#86c262", "#c8336e"]}, "legend": {"orient": "none", "legendX": 498, "legendY": 115, "title": null}},
   "detail": {"field": "b", "type": "nominal"}}},
 {"data": {"values": [{}]}, "mark": {"type": "text", "font": "Liberation Serif", "fontSize": 21, "align": "left", "baseline": "middle", "color": "#333"}, "encoding": {"x": {"datum": 0.3736, "type": "quantitative"}, "y": {"datum": 2.31, "type": "quantitative"}, "text": {"value": "H-B"}}}
]},
{"width": 595, "height": 345, "layer": [
 {"data": {"values": [{}]}, "mark": {"type": "rule", "color": "#8a8a8a", "strokeWidth": 1}, "encoding": {"x": {"datum": 0.3, "type": "quantitative"}, "x2": {"datum": 0.7}, "y": {"datum": 0, "type": "quantitative"}}},
 {"data": {"name": "hh"}, "mark": {"type": "line", "strokeWidth": 1.5, "interpolate": "monotone"},
  "encoding": {
   "x": {"field": "x", "type": "quantitative", "scale": {"domain": [0.26636, 0.80727], "nice": false, "zero": false}, "axis": {"values": [0.3, 0.4, 0.5, 0.6, 0.7], "format": ".1f", "offset": -170, "title": null}},
   "y": {"field": "y", "type": "quantitative", "scale": {"domain": [-3.36, 3.46], "nice": false, "zero": false}, "axis": {"values": [-3, -2, -1, 0, 1, 2, 3], "labelExpr": "toString(datum.value)", "offset": -22, "title": null}},
   "color": {"field": "s", "type": "nominal", "scale": {"domain": ["RHO*5", "LAP", "LS", "LG", "LV"], "range": ["#3c3c3c", "#e0486c", "#5a60c0", "#86c262", "#c8336e"]}, "legend": {"orient": "none", "legendX": 498, "legendY": 115, "title": null}},
   "detail": {"field": "b", "type": "nominal"}}},
 {"data": {"values": [{}]}, "mark": {"type": "text", "font": "Liberation Serif", "fontSize": 21, "align": "left", "baseline": "middle", "color": "#333"}, "encoding": {"x": {"datum": 0.348, "type": "quantitative"}, "y": {"datum": 2.68, "type": "quantitative"}, "text": {"value": "H-H"}}}
]}
], "spacing": 43, "resolve": {"scale": {"color": "independent"}, "legend": {"color": "independent"}}},
{"vconcat": [
{"width": 595, "height": 345, "layer": [
 {"data": {"values": [{}]}, "mark": {"type": "rule", "color": "#8a8a8a", "strokeWidth": 1}, "encoding": {"x": {"datum": 0.18, "type": "quantitative"}, "x2": {"datum": 0.58}, "y": {"datum": 0, "type": "quantitative"}}},
 {"data": {"name": "hc"}, "mark": {"type": "line", "strokeWidth": 1.5, "interpolate": "monotone"},
  "encoding": {
   "x": {"field": "x", "type": "quantitative", "scale": {"domain": [0.14636, 0.68727], "nice": false, "zero": false}, "axis": {"values": [0.18, 0.28, 0.38, 0.48, 0.58], "format": ".2f", "offset": -170, "title": null}},
   "y": {"field": "y", "type": "quantitative", "scale": {"domain": [-3.36, 3.46], "nice": false, "zero": false}, "axis": {"values": [-3, -2, -1, 0, 1, 2, 3], "labelExpr": "toString(datum.value)", "offset": -22, "title": null}},
   "color": {"field": "s", "type": "nominal", "scale": {"domain": ["RHO*5", "LAP", "LS", "LG", "LV"], "range": ["#3c3c3c", "#e0486c", "#5a60c0", "#86c262", "#c8336e"]}, "legend": {"orient": "none", "legendX": 498, "legendY": 115, "title": null}},
   "detail": {"field": "b", "type": "nominal"}}},
 {"data": {"values": [{}]}, "mark": {"type": "text", "font": "Liberation Serif", "fontSize": 21, "align": "left", "baseline": "middle", "color": "#333"}, "encoding": {"x": {"datum": 0.4836, "type": "quantitative"}, "y": {"datum": 2.72, "type": "quantitative"}, "text": {"value": "H-C"}}}
]},
{"width": 595, "height": 345, "layer": [
 {"data": {"values": [{}]}, "mark": {"type": "rule", "color": "#8a8a8a", "strokeWidth": 1}, "encoding": {"x": {"datum": 0.1, "type": "quantitative"}, "x2": {"datum": 0.5}, "y": {"datum": 0, "type": "quantitative"}}},
 {"data": {"name": "hn"}, "mark": {"type": "line", "strokeWidth": 1.5, "interpolate": "monotone"},
  "encoding": {
   "x": {"field": "x", "type": "quantitative", "scale": {"domain": [0.06636, 0.60727], "nice": false, "zero": false}, "axis": {"values": [0.1, 0.2, 0.3, 0.4, 0.5], "format": ".1f", "offset": -170, "title": null}},
   "y": {"field": "y", "type": "quantitative", "scale": {"domain": [-3.36, 3.46], "nice": false, "zero": false}, "axis": {"values": [-3, -2, -1, 0, 1, 2, 3], "labelExpr": "toString(datum.value)", "offset": -22, "title": null}},
   "color": {"field": "s", "type": "nominal", "scale": {"domain": ["RHO*5", "LAP", "LS", "LG", "LV"], "range": ["#3c3c3c", "#e0486c", "#5a60c0", "#86c262", "#c8336e"]}, "legend": {"orient": "none", "legendX": 498, "legendY": 115, "title": null}},
   "detail": {"field": "b", "type": "nominal"}}},
 {"data": {"values": [{}]}, "mark": {"type": "text", "font": "Liberation Serif", "fontSize": 21, "align": "left", "baseline": "middle", "color": "#333"}, "encoding": {"x": {"datum": 0.4, "type": "quantitative"}, "y": {"datum": 2.7, "type": "quantitative"}, "text": {"value": "H-N"}}}
]},
{"width": 595, "height": 345, "layer": [
 {"data": {"values": [{}]}, "mark": {"type": "rule", "color": "#8a8a8a", "strokeWidth": 1}, "encoding": {"x": {"datum": 0.04, "type": "quantitative"}, "x2": {"datum": 0.44}, "y": {"datum": 0, "type": "quantitative"}}},
 {"data": {"name": "ho"}, "mark": {"type": "line", "strokeWidth": 1.5, "interpolate": "monotone"},
  "encoding": {
   "x": {"field": "x", "type": "quantitative", "scale": {"domain": [0.00636, 0.54727], "nice": false, "zero": false}, "axis": {"values": [0.04, 0.14, 0.24, 0.34, 0.44], "format": ".2f", "offset": -170, "title": null}},
   "y": {"field": "y", "type": "quantitative", "scale": {"domain": [-3.36, 3.46], "nice": false, "zero": false}, "axis": {"values": [-3, -2, -1, 0, 1, 2, 3], "labelExpr": "toString(datum.value)", "offset": -22, "title": null}},
   "color": {"field": "s", "type": "nominal", "scale": {"domain": ["RHO*5", "LAP", "LS", "LG", "LV"], "range": ["#3c3c3c", "#e0486c", "#5a60c0", "#86c262", "#c8336e"]}, "legend": {"orient": "none", "legendX": 498, "legendY": 115, "title": null}},
   "detail": {"field": "b", "type": "nominal"}}},
 {"data": {"values": [{}]}, "mark": {"type": "text", "font": "Liberation Serif", "fontSize": 21, "align": "left", "baseline": "middle", "color": "#333"}, "encoding": {"x": {"datum": 0.3436, "type": "quantitative"}, "y": {"datum": 2.88, "type": "quantitative"}, "text": {"value": "H-O"}}}
]},
{"width": 595, "height": 345, "layer": [
 {"data": {"values": [{}]}, "mark": {"type": "rule", "color": "#8a8a8a", "strokeWidth": 1}, "encoding": {"x": {"datum": 0, "type": "quantitative"}, "x2": {"datum": 0.4}, "y": {"datum": 0, "type": "quantitative"}}},
 {"data": {"name": "hf"}, "mark": {"type": "line", "strokeWidth": 1.5, "interpolate": "monotone"},
  "encoding": {
   "x": {"field": "x", "type": "quantitative", "scale": {"domain": [-0.03364, 0.50727], "nice": false, "zero": false}, "axis": {"values": [0, 0.1, 0.2, 0.3, 0.4], "format": "~g", "offset": -170, "title": null}},
   "y": {"field": "y", "type": "quantitative", "scale": {"domain": [-5.59, 5.77], "nice": false, "zero": false}, "axis": {"values": [-5, -3, -1, 1, 3, 5], "labelExpr": "toString(datum.value)", "offset": -22, "title": null}},
   "color": {"field": "s", "type": "nominal", "scale": {"domain": ["RHO*5", "LAP", "LS", "LG", "LV"], "range": ["#3c3c3c", "#e0486c", "#5a60c0", "#86c262", "#c8336e"]}, "legend": {"orient": "none", "legendX": 498, "legendY": 115, "title": null}},
   "detail": {"field": "b", "type": "nominal"}}},
 {"data": {"values": [{}]}, "mark": {"type": "text", "font": "Liberation Serif", "fontSize": 21, "align": "left", "baseline": "middle", "color": "#333"}, "encoding": {"x": {"datum": 0.306, "type": "quantitative"}, "y": {"datum": 4.47, "type": "quantitative"}, "text": {"value": "H-F"}}}
]}
], "spacing": 40, "resolve": {"scale": {"color": "independent"}, "legend": {"color": "independent"}}}
],
"spacing": 52,
"resolve": {"scale": {"color": "independent"}, "legend": {"color": "independent"}},
"config": {
 "view": {"stroke": "#bdbdbd", "strokeWidth": 1, "fill": "white"},
 "axis": {"grid": false, "domain": false, "labelFont": "Liberation Sans", "labelFontSize": 16, "labelColor": "#3a3a3a", "tickColor": "#999999", "tickSize": 5, "labelFlush": false, "labelOverlap": false},
 "axisY": {"ticks": false, "labelPadding": 0},
 "axisX": {"labelPadding": 9},
 "legend": {"strokeColor": "#aaaaaa", "fillColor": "white", "padding": 7, "symbolType": "stroke", "symbolStrokeWidth": 1.5, "symbolSize": 110, "labelFont": "Liberation Sans", "labelFontSize": 17, "labelColor": "#333333", "rowPadding": 10, "labelOffset": 5}
}
}
